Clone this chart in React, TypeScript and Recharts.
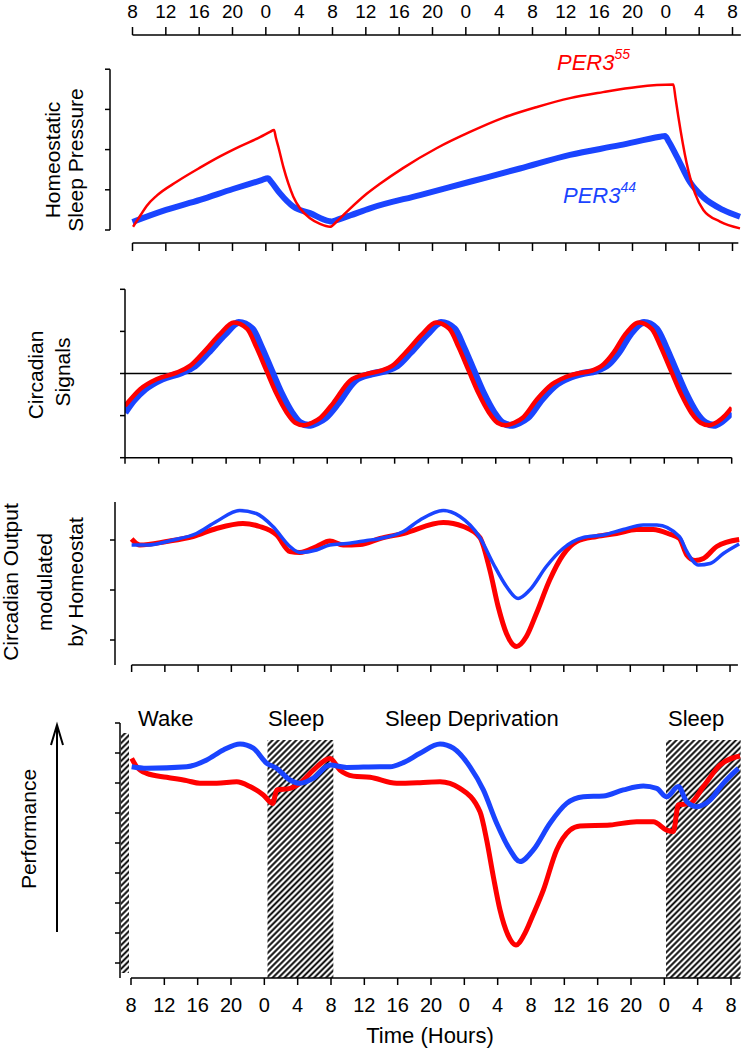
import React from "react";
import { LineChart, Line, XAxis, YAxis, ReferenceLine, ReferenceArea } from "recharts";

const W = 746;
const H = 1050;
const FONT = '"Liberation Sans", Arial, sans-serif';
const RED = "#ff0000";
const BLUE = "#1a44ff";

type Pt = [number, number];

// clock hours, counted from 8 h on day 1
const hourTicks = [8, 12, 16, 20, 24, 28, 32, 36, 40, 44, 48, 52, 56, 60, 64, 68, 72, 76, 80];

// homeostatic sleep pressure (tick units 0..4)
const homeoRed: Pt[] = [
  [8.06, 0.08], [9.0, 0.38], [9.7, 0.6], [10.94, 0.86], [13.3, 1.2], [16.1, 1.55], [18.5, 1.83], [20.9, 2.08],
  [23.3, 2.31], [24.5, 2.44], [24.98, 2.49], [25.2, 2.3], [25.5, 2.07], [26.1, 1.57], [26.7, 1.16], [27.3, 0.83],
  [28.1, 0.54], [29.3, 0.29], [30.5, 0.15], [31.7, 0.08], [32.5, 0.21], [33.7, 0.45], [36.1, 0.9], [37.7, 1.15],
  [40.46, 1.54], [44.54, 2.04], [48.5, 2.44], [52.46, 2.79], [56.54, 3.06], [60.5, 3.28], [64.46, 3.43],
  [68.54, 3.56], [72.9, 3.62], [73.15, 3.3], [73.5, 2.82], [74.5, 1.66], [75.5, 0.91], [76.5, 0.5], [78.5, 0.21],
  [80.9, 0.04],
];
const homeoBlue: Pt[] = [
  [8.0, 0.2], [12.02, 0.5], [16.1, 0.75], [20.06, 1.02], [23.5, 1.24], [24.26, 1.29], [24.6, 1.21], [25.7, 0.91],
  [27.3, 0.58], [29.3, 0.42], [31.6, 0.22], [31.94, 0.21], [32.4, 0.24], [34.1, 0.36], [36.5, 0.54], [42.5, 0.87],
  [48.5, 1.2], [54.5, 1.53], [60.5, 1.87], [66.5, 2.11], [71.3, 2.32], [71.9, 2.34], [72.3, 2.22], [73.34, 1.82],
  [74.9, 1.19], [76.46, 0.82], [78.86, 0.5], [80.9, 0.33],
];

// circadian signals (tick units -2..2)
const circRed: Pt[] = [
  [8.0, -0.77], [9.8, -0.37], [11.8, -0.13], [14.1, 0.02], [15.7, 0.18], [17.3, 0.5], [19.3, 0.94],
  [20.9, 1.21], [22.5, 1.06], [23.6, 0.62], [24.8, 0.06], [26.0, -0.49], [27.2, -0.93], [28.2, -1.17],
  [29.2, -1.23], [30.2, -1.17], [31.2, -1.05], [32.75, -0.69], [34.7, -0.17], [36.7, -0.01], [38.3, 0.06],
  [39.7, 0.18], [41.3, 0.5], [43.3, 0.94], [44.9, 1.21], [46.5, 1.06], [47.6, 0.62], [48.8, 0.06],
  [50.0, -0.49], [51.2, -0.93], [52.2, -1.17], [53.2, -1.23], [54.2, -1.17], [55.2, -1.05], [56.9, -0.61],
  [58.7, -0.25], [60.1, -0.1], [61.7, 0.0], [63.3, 0.06], [64.8, 0.22], [66.0, 0.5], [67.4, 0.94],
  [69.0, 1.21], [70.5, 1.06], [71.6, 0.62], [72.8, 0.06], [74.0, -0.49], [75.2, -0.93], [76.3, -1.17],
  [77.3, -1.23], [78.3, -1.15], [79.2, -1.0], [80.0, -0.81],
];
const circBlue: Pt[] = [
  [8.0, -0.93], [9.0, -0.65], [10.4, -0.37], [12.4, -0.13], [14.7, 0.02], [16.3, 0.18], [17.9, 0.5],
  [19.9, 0.94], [21.5, 1.21], [23.1, 1.06], [24.2, 0.62], [25.4, 0.06], [26.6, -0.49], [27.8, -0.93],
  [28.8, -1.17], [29.8, -1.23], [30.8, -1.17], [31.8, -1.05], [33.35, -0.69], [35.3, -0.17], [37.3, -0.01],
  [38.9, 0.06], [40.3, 0.18], [41.9, 0.5], [43.9, 0.94], [45.5, 1.21], [47.1, 1.06], [48.2, 0.62],
  [49.4, 0.06], [50.6, -0.49], [51.8, -0.93], [52.8, -1.17], [53.8, -1.23], [54.8, -1.17], [55.8, -1.05],
  [57.5, -0.61], [59.3, -0.25], [60.7, -0.1], [62.3, 0.0], [63.9, 0.06], [65.4, 0.22], [66.6, 0.5],
  [68.0, 0.94], [69.6, 1.21], [71.1, 1.06], [72.2, 0.62], [73.4, 0.06], [74.6, -0.49], [75.8, -0.93],
  [76.9, -1.17], [77.9, -1.23], [78.9, -1.13], [80.0, -0.93],
];

// circadian output modulated by homeostat (tick units 0..2)
const modRed: Pt[] = [
  [8.0, 2.02], [9.0, 1.9], [12.2, 1.97], [15.4, 2.07], [18.2, 2.23], [21.4, 2.33], [23.4, 2.27],
  [25.45, 2.1], [27.05, 1.77], [28.25, 1.75], [30.25, 1.87], [31.85, 1.98], [33.45, 1.9], [35.5, 1.91],
  [37.9, 2.03], [40.7, 2.13], [45.5, 2.35], [47.9, 2.27], [49.9, 2.05], [51.1, 1.4], [52.1, 0.67],
  [53.1, 0.13], [54.3, -0.13], [55.5, 0.07], [56.7, 0.53], [58.3, 1.2], [59.9, 1.7], [61.55, 1.97],
  [63.95, 2.07], [66.35, 2.13], [68.75, 2.21], [70.75, 2.21], [72.7, 2.12], [73.9, 2.03], [74.8, 1.7],
  [75.8, 1.59], [76.8, 1.63], [78.4, 1.87], [81.1, 2.01],
];
const modBlue: Pt[] = [
  [8.0, 1.9], [9.8, 1.9], [13.0, 2.0], [15.8, 2.13], [18.2, 2.37], [21.0, 2.59], [23.0, 2.53],
  [25.0, 2.27], [27.05, 1.87], [28.25, 1.75], [30.25, 1.8], [31.85, 1.9], [33.9, 1.93], [36.3, 1.99],
  [37.9, 2.03], [40.7, 2.17], [42.7, 2.4], [45.5, 2.59], [47.5, 2.47], [49.9, 2.05], [51.5, 1.53],
  [53.1, 1.07], [54.5, 0.83], [55.9, 1.0], [57.9, 1.47], [59.9, 1.83], [62.35, 2.05], [64.75, 2.1],
  [67.15, 2.21], [69.55, 2.3], [71.2, 2.3], [73.9, 2.07], [74.8, 1.77], [76.2, 1.5], [77.6, 1.53],
  [79.2, 1.73], [81.1, 1.92],
];

// performance (tick units 0..8)
const perfRed: Pt[] = [
  [8.08, 6.82], [8.68, 6.54], [9.88, 6.32], [12.28, 6.19], [14.68, 6.08], [16.28, 5.99], [18.28, 5.99],
  [20.68, 6.04], [22.28, 5.88], [23.88, 5.6], [25.0, 5.32], [25.5, 5.77], [27.08, 5.82], [28.28, 5.99],
  [29.88, 6.43], [31.88, 6.82], [33.08, 6.43], [34.68, 6.23], [36.68, 6.19], [39.88, 5.99], [42.68, 6.01],
  [45.08, 6.04], [47.48, 5.82], [49.88, 5.04], [50.68, 4.1], [51.48, 2.88], [52.28, 1.77], [53.24, 0.93],
  [54.2, 0.6], [55.16, 0.93], [56.24, 1.6], [57.48, 2.43], [59.08, 3.77], [60.68, 4.43], [61.88, 4.57],
  [65.48, 4.6], [68.68, 4.71], [70.68, 4.71], [72.28, 4.43], [73.08, 4.38], [73.68, 5.27], [75.08, 5.32],
  [76.68, 5.88], [78.68, 6.6], [81.08, 6.9],
];
const perfBlue: Pt[] = [
  [8.08, 6.54], [9.88, 6.49], [14.68, 6.54], [17.08, 6.77], [19.08, 7.1], [21.08, 7.3], [22.68, 7.16],
  [24.28, 6.66], [25.48, 6.49], [27.08, 6.1], [28.28, 5.99], [29.88, 6.16], [31.88, 6.6], [33.88, 6.52],
  [37.88, 6.54], [39.08, 6.54], [40.68, 6.68], [42.68, 6.99], [45.08, 7.3], [46.68, 7.16], [48.68, 6.54],
  [50.28, 5.77], [51.88, 4.66], [53.48, 3.77], [54.68, 3.38], [56.28, 3.77], [58.28, 4.66], [60.28, 5.32],
  [62.28, 5.54], [64.68, 5.57], [67.08, 5.77], [69.48, 5.9], [71.08, 5.82], [72.28, 5.54], [73.68, 5.88],
  [74.68, 5.38], [75.88, 5.21], [77.48, 5.43], [79.08, 5.99], [80.88, 6.49],
];

// hatched sleep blocks: [start h, end h, top]
const sleepBlocks: [number, number, number][] = [
  [6.8, 7.76, 7.67],
  [24.38, 32.28, 7.43],
  [72.2, 81.16, 7.43],
];

const rows = (pts: Pt[]) => pts.map(([h, y]) => ({ h, y }));
const clock = (h: number) => String(h % 24);
const blank = () => "";

// margins so that the plot rect lands on page coordinates
const marginFor = (l: number, r: number, t: number, b: number, yW: number, topH: number, botH: number) => ({
  left: l - yW,
  right: W - r,
  top: t - topH,
  bottom: H - b - botH,
});

const ax = { stroke: "#000", strokeWidth: 1.5 };
const layer: React.CSSProperties = { position: "absolute", left: 0, top: 0 };

function HomeostatPanel() {
  const dom: [number, number] = [5.3, 81.5];
  const yDom: [number, number] = [-0.3234, 4.851];
  return (
    <LineChart width={W} height={H} margin={marginFor(110, 745, 35, 243, 20, 35, 20)}>
      <XAxis xAxisId="top" orientation="top" type="number" dataKey="h" domain={dom} allowDataOverflow
        ticks={hourTicks} interval={0} tickFormatter={clock} height={35} axisLine={false}
        stroke="#000" tickLine={ax} tickSize={8} tickMargin={9}
        tick={{ fill: "#000", fontSize: 19, fontFamily: FONT }} />
      <XAxis xAxisId="b" type="number" dataKey="h" domain={dom} allowDataOverflow ticks={hourTicks}
        interval={0} height={20} axisLine={false} tickFormatter={blank} stroke="#000" tickLine={ax} tickSize={8} />
      <YAxis type="number" domain={yDom} allowDataOverflow ticks={[0, 1, 2, 3, 4]} width={20}
        axisLine={false} tickFormatter={blank} stroke="#000" tickLine={ax} tickSize={5} />
      <ReferenceLine xAxisId="top" ifOverflow="visible" stroke="#000" strokeWidth={1.5}
        segment={[{ x: 8, y: yDom[1] }, { x: 81, y: yDom[1] }]} />
      <ReferenceLine xAxisId="b" ifOverflow="visible" stroke="#000" strokeWidth={1.5}
        segment={[{ x: 8, y: yDom[0] }, { x: 80.7, y: yDom[0] }]} />
      <ReferenceLine xAxisId="b" ifOverflow="visible" stroke="#000" strokeWidth={1.5}
        segment={[{ x: dom[0], y: 0 }, { x: dom[0], y: 4 }]} />
      <Line xAxisId="b" data={rows(homeoBlue)} dataKey="y" type="monotone" stroke={BLUE} strokeWidth={6}
        dot={false} isAnimationActive={false} />
      <Line xAxisId="b" data={rows(homeoRed)} dataKey="y" type="monotone" stroke={RED} strokeWidth={2.5}
        dot={false} isAnimationActive={false} />
    </LineChart>
  );
}

function CircadianPanel() {
  return (
    <LineChart width={W} height={H} margin={marginFor(125, 731.7, 289.3, 457.7, 20, 0, 20)}>
      <XAxis type="number" dataKey="h" domain={[8, 80]} allowDataOverflow ticks={hourTicks} interval={0}
        height={20} axisLine={ax} tickFormatter={blank} stroke="#000" tickLine={ax} tickSize={6} />
      <YAxis type="number" domain={[-2, 2]} allowDataOverflow ticks={[-2, -1, 0, 1, 2]} width={20}
        axisLine={ax} tickFormatter={blank} stroke="#000" tickLine={ax} tickSize={5} />
      <ReferenceLine y={0} stroke="#000" strokeWidth={1.5} />
      <Line data={rows(circBlue)} dataKey="y" type="monotone" stroke={BLUE} strokeWidth={7}
        dot={false} isAnimationActive={false} />
      <Line data={rows(circRed)} dataKey="y" type="monotone" stroke={RED} strokeWidth={4.5}
        dot={false} isAnimationActive={false} />
    </LineChart>
  );
}

function ModulatedPanel() {
  const dom: [number, number] = [6, 81.2];
  const yDom: [number, number] = [-0.5, 2.76];
  return (
    <LineChart width={W} height={H} margin={marginFor(115, 740, 502, 665, 20, 0, 20)}>
      <XAxis type="number" dataKey="h" domain={dom} allowDataOverflow ticks={hourTicks} interval={0}
        height={20} axisLine={false} tickFormatter={blank} stroke="#000" tickLine={ax} tickSize={7} />
      <YAxis type="number" domain={yDom} allowDataOverflow ticks={[0, 1, 2]} width={20}
        axisLine={ax} tickFormatter={blank} stroke="#000" tickLine={ax} tickSize={5} />
      <ReferenceLine ifOverflow="visible" stroke="#000" strokeWidth={1.5}
        segment={[{ x: 8, y: yDom[0] }, { x: 80.95, y: yDom[0] }]} />
      <Line data={rows(modRed)} dataKey="y" type="monotone" stroke={RED} strokeWidth={5}
        dot={false} isAnimationActive={false} />
      <Line data={rows(modBlue)} dataKey="y" type="monotone" stroke={BLUE} strokeWidth={3.5}
        dot={false} isAnimationActive={false} />
    </LineChart>
  );
}

function PerformancePanel() {
  const dom: [number, number] = [6.68, 81.32];
  const yDom: [number, number] = [-0.5, 8];
  return (
    <LineChart width={W} height={H} margin={marginFor(120, 742, 723, 978, 20, 0, 40)}>
      <defs>
        <pattern id="hatch" patternUnits="userSpaceOnUse" width={4.2} height={4.2} patternTransform="rotate(45)">
          <line x1={2.1} y1={0} x2={2.1} y2={4.2} stroke="#000" strokeWidth={1.9} />
        </pattern>
      </defs>
      <XAxis type="number" dataKey="h" domain={dom} allowDataOverflow ticks={hourTicks} interval={0}
        tickFormatter={clock} height={40} axisLine={false} stroke="#000" tickLine={ax} tickSize={7}
        tickMargin={13} tick={{ fill: "#000", fontSize: 20, fontFamily: FONT }} />
      <YAxis type="number" domain={yDom} allowDataOverflow ticks={[0, 1, 2, 3, 4, 5, 6, 7, 8]} width={20}
        axisLine={ax} tickFormatter={blank} stroke="#000" tickLine={ax} tickSize={5} />
      {sleepBlocks.map(([x1, x2, top], i) => (
        <ReferenceArea key={i} x1={x1} x2={x2} y1={i === 0 ? -0.33 : yDom[0]} y2={top}
          ifOverflow="visible" fill="url(#hatch)" fillOpacity={1} stroke="none" />
      ))}
      <ReferenceLine ifOverflow="visible" stroke="#000" strokeWidth={1.5}
        segment={[{ x: 8, y: yDom[0] }, { x: 81.1, y: yDom[0] }]} />
      <Line data={rows(perfRed)} dataKey="y" type="monotone" stroke={RED} strokeWidth={5}
        dot={false} isAnimationActive={false} />
      <Line data={rows(perfBlue)} dataKey="y" type="monotone" stroke={BLUE} strokeWidth={5}
        dot={false} isAnimationActive={false} />
    </LineChart>
  );
}

function Labels() {
  const rot = (x: number, y: number, s: string, key: string) => (
    <text key={key} transform={`translate(${x},${y}) rotate(-90)`} textAnchor="middle"
      dominantBaseline="central" fontSize={21}>{s}</text>
  );
  return (
    <svg width={W} height={H} style={{ ...layer, pointerEvents: "none" }} fontFamily={FONT} fill="#000">
      {rot(52.5, 160, "Homeostatic", "a")}
      {rot(75.8, 160, "Sleep Pressure", "b")}
      {rot(35.8, 375, "Circadian", "c")}
      {rot(62.5, 372, "Signals", "d")}
      {rot(10.8, 582, "Circadian Output", "e")}
      {rot(44.5, 582, "modulated", "f")}
      {rot(75.5, 582, "by Homeostat", "g")}
      {rot(28.5, 829, "Performance", "h")}
      <path d="M57,932 L57,727" stroke="#000" strokeWidth={2} fill="none" />
      <path d="M51,745 L57,725 L63,745" stroke="#000" strokeWidth={2} fill="none" />
      <text x={138} y={726} fontSize={22}>Wake</text>
      <text x={268} y={726} fontSize={22}>Sleep</text>
      <text x={385} y={726} fontSize={22}>Sleep Deprivation</text>
      <text x={668} y={726} fontSize={22}>Sleep</text>
      <text x={430} y={1043} fontSize={22} textAnchor="middle">Time (Hours)</text>
      <text x={557} y={70} fontSize={22} fontStyle="italic" fill={RED}>
        PER3<tspan fontSize={14} dy={-11}>55</tspan>
      </text>
      <text x={563} y={203} fontSize={22} fontStyle="italic" fill={BLUE}>
        PER3<tspan fontSize={14} dy={-11}>44</tspan>
      </text>
    </svg>
  );
}

export default function App() {
  return (
    <div style={{ position: "absolute", left: 0, top: 0, width: W, height: H, background: "#fff" }}>
      <div style={layer}><HomeostatPanel /></div>
      <div style={layer}><CircadianPanel /></div>
      <div style={layer}><ModulatedPanel /></div>
      <div style={layer}><PerformancePanel /></div>
      <Labels />
    </div>
  );
}
